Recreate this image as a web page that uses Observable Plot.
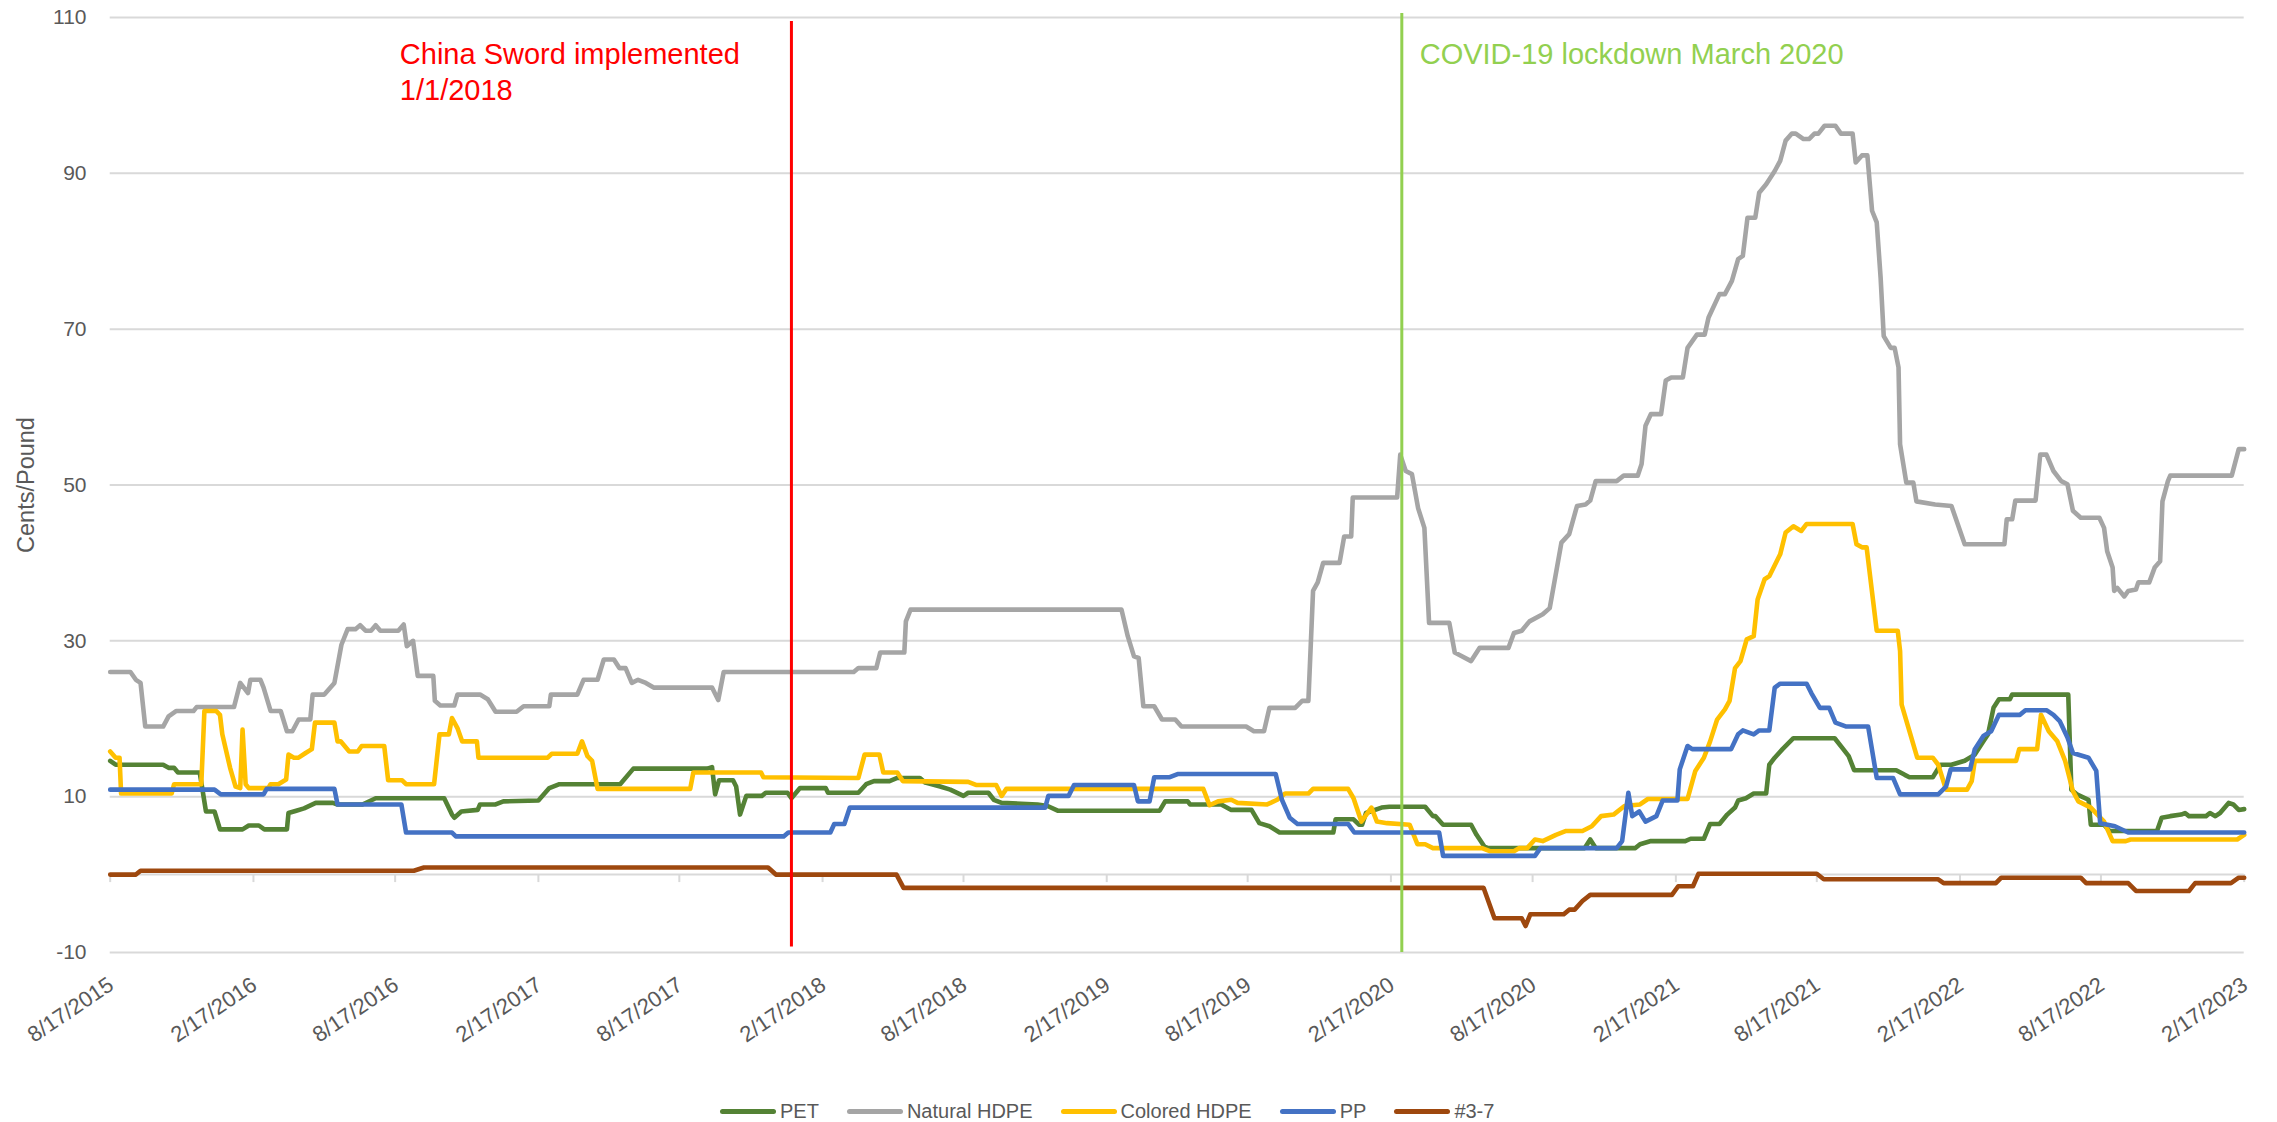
<!DOCTYPE html>
<html><head><meta charset="utf-8">
<script src="https://cdn.jsdelivr.net/npm/d3@7"></script>
<script src="https://cdn.jsdelivr.net/npm/@observablehq/plot@0.6"></script>
<style>
body{margin:0;background:#fff;font-family:"Liberation Sans",Arial,sans-serif;}
#wrap{position:relative;width:2277px;height:1122px;overflow:hidden;}
#legend{position:absolute;left:720px;top:1097px;height:28px;display:flex;align-items:center;gap:28px;font-size:20px;color:#595959;white-space:nowrap;}
.item{display:flex;align-items:center;}
.sw{width:56px;height:5px;border-radius:3px;margin-right:4px;}
</style></head><body><div id="wrap"></div>
<script>
// x values: days since the first observation (8/17/2015); y values: cents per pound
const startDate = "2015-08-17";
const tickLabels = ["8/17/2015","2/17/2016","8/17/2016","2/17/2017","8/17/2017","2/17/2018","8/17/2018","2/17/2019","8/17/2019","2/17/2020","8/17/2020","2/17/2021","8/17/2021","2/17/2022","8/17/2022","2/17/2023"];
const yTicks = [-10, 10, 30, 50, 70, 90, 110];
const seriesNames = ["PET", "Natural HDPE", "Colored HDPE", "PP", "#3-7"];
const seriesColors = ["#548235", "#A5A5A5", "#FFC000", "#4472C4", "#9E480E"];

const pet = [[0,14.6],[7,14.1],[68,14.1],[75,13.7],[82,13.7],[87,13.1],[115,13.1],[123,8.1],[134,8.1],[141,5.8],[170,5.8],[178,6.3],[191,6.3],[198,5.8],[227,5.8],[229,7.9],[239,8.2],[249,8.5],[264,9.2],[286,9.2],[292,9.0],[324,9.0],[341,9.8],[429,9.8],[439,7.7],[442,7.3],[451,8.1],[472,8.3],[475,9.0],[495,9.0],[505,9.4],[550,9.5],[564,11.1],[577,11.6],[655,11.6],[672,13.6],[767,13.6],[773,13.8],[777,10.3],[782,12.1],[800,12.1],[804,11.3],[809,7.7],[817,10.1],[837,10.1],[842,10.5],[870,10.5],[875,9.8],[886,11.1],[919,11.1],[922,10.5],[961,10.5],[971,11.6],[981,12.0],[1001,12.0],[1011,12.4],[1040,12.4],[1047,11.8],[1066,11.3],[1079,10.9],[1096,10.1],[1102,10.5],[1128,10.5],[1135,9.6],[1145,9.2],[1191,9.0],[1204,8.8],[1217,8.2],[1348,8.2],[1355,9.4],[1384,9.4],[1387,9.0],[1427,9.0],[1440,8.3],[1466,8.3],[1476,6.6],[1489,6.2],[1502,5.4],[1571,5.4],[1574,7.1],[1597,7.1],[1604,6.4],[1608,6.4],[1613,7.9],[1633,8.6],[1643,8.7],[1689,8.7],[1699,7.5],[1702,7.5],[1712,6.4],[1748,6.4],[1755,5.1],[1765,3.6],[1770,3.4],[1894,3.4],[1901,4.5],[1908,3.4],[1959,3.4],[1965,3.9],[1979,4.3],[2023,4.3],[2030,4.6],[2047,4.6],[2055,6.5],[2067,6.5],[2077,7.7],[2087,8.6],[2091,9.5],[2101,9.8],[2111,10.4],[2127,10.4],[2131,14.1],[2138,15.0],[2148,16.1],[2162,17.5],[2215,17.5],[2226,16.1],[2233,15.2],[2240,13.4],[2294,13.4],[2305,12.8],[2311,12.5],[2341,12.5],[2351,14.1],[2365,14.1],[2382,14.6],[2395,15.4],[2406,17.1],[2412,18.0],[2419,21.4],[2426,22.5],[2440,22.5],[2443,23.1],[2515,23.1],[2519,10.9],[2526,10.3],[2541,9.6],[2544,6.4],[2561,6.4],[2568,5.6],[2629,5.6],[2635,7.3],[2646,7.5],[2660,7.7],[2665,7.9],[2670,7.5],[2692,7.5],[2697,7.9],[2704,7.5],[2710,7.9],[2721,9.2],[2727,9.0],[2734,8.3],[2741,8.4]];

const naturalHDPE = [[0,26.0],[26,26.0],[33,25.0],[39,24.6],[45,19.0],[68,19.0],[75,20.3],[85,21.0],[107,21.0],[111,21.5],[159,21.5],[167,24.6],[177,23.3],[180,25.0],[193,25.0],[197,24.0],[206,21.0],[219,21.0],[227,18.4],[234,18.4],[242,19.9],[257,19.9],[260,23.1],[275,23.1],[288,24.6],[297,29.5],[305,31.5],[315,31.5],[321,32.0],[328,31.3],[335,31.3],[341,32.0],[347,31.3],[370,31.3],[377,32.1],[381,29.3],[389,30.0],[395,25.5],[415,25.5],[417,22.3],[424,21.7],[442,21.7],[446,23.1],[475,23.1],[485,22.5],[495,20.9],[522,20.9],[531,21.6],[564,21.6],[566,23.1],[600,23.1],[608,25.0],[626,25.0],[634,27.6],[647,27.6],[654,26.5],[662,26.5],[670,24.6],[678,25.0],[688,24.6],[698,24.0],[773,24.0],[781,22.4],[788,26.0],[955,26.0],[961,26.5],[984,26.5],[989,28.5],[1020,28.5],[1022,32.5],[1028,34.0],[1299,34.0],[1307,30.6],[1315,28.0],[1321,27.8],[1327,21.6],[1341,21.6],[1351,19.9],[1368,19.9],[1376,19.0],[1459,19.0],[1469,18.4],[1482,18.4],[1489,21.4],[1522,21.4],[1531,22.3],[1539,22.3],[1545,36.4],[1551,37.5],[1558,40.0],[1579,40.0],[1585,43.4],[1594,43.4],[1596,48.4],[1653,48.4],[1657,53.9],[1664,51.8],[1672,51.4],[1680,47.0],[1688,44.5],[1694,32.3],[1720,32.3],[1727,28.5],[1748,27.4],[1759,29.1],[1796,29.1],[1803,31.0],[1813,31.3],[1823,32.5],[1840,33.4],[1849,34.2],[1864,42.6],[1874,43.7],[1884,47.3],[1895,47.5],[1901,48.0],[1908,50.5],[1935,50.5],[1944,51.2],[1962,51.2],[1967,52.7],[1972,57.6],[1979,59.1],[1992,59.1],[1998,63.4],[2005,63.8],[2020,63.8],[2026,67.6],[2038,69.3],[2048,69.3],[2053,71.5],[2067,74.5],[2074,74.5],[2083,76.2],[2091,79.0],[2097,79.4],[2103,84.3],[2113,84.3],[2118,87.5],[2127,88.6],[2138,90.3],[2145,91.6],[2152,94.2],[2160,95.1],[2165,95.1],[2175,94.4],[2182,94.4],[2189,95.1],[2194,95.1],[2202,96.1],[2216,96.1],[2223,95.1],[2238,95.1],[2242,91.4],[2250,92.3],[2257,92.3],[2263,85.2],[2269,83.7],[2274,76.6],[2278,69.1],[2287,67.6],[2292,67.6],[2297,65.1],[2299,55.2],[2307,50.3],[2316,50.3],[2320,47.9],[2344,47.5],[2365,47.3],[2382,42.4],[2433,42.4],[2436,45.6],[2443,45.6],[2447,48.0],[2473,48.0],[2479,53.9],[2487,53.9],[2496,51.8],[2506,50.5],[2514,50.1],[2521,46.7],[2531,45.8],[2555,45.8],[2561,44.5],[2565,41.5],[2572,39.4],[2574,36.4],[2578,36.8],[2587,35.7],[2592,36.4],[2602,36.6],[2605,37.5],[2619,37.5],[2626,39.4],[2633,40.2],[2636,47.9],[2643,50.5],[2646,51.2],[2725,51.2],[2734,54.6],[2741,54.6]];

const coloredHDPE = [[0,15.8],[7,15.0],[12,15.0],[14,10.4],[79,10.4],[82,11.6],[117,11.6],[121,21.0],[136,21.0],[141,20.5],[144,18.0],[154,13.7],[161,11.3],[167,11.1],[170,18.6],[174,11.6],[178,11.1],[203,11.1],[206,11.6],[216,11.6],[226,12.2],[229,15.4],[236,15.0],[242,15.0],[251,15.6],[259,16.1],[263,19.5],[288,19.5],[292,17.1],[296,17.1],[307,15.8],[318,15.8],[323,16.5],[352,16.5],[357,12.1],[375,12.1],[380,11.6],[416,11.6],[423,18.0],[435,18.0],[439,20.1],[446,18.8],[452,17.1],[471,17.1],[473,15.0],[562,15.0],[567,15.5],[600,15.5],[606,17.1],[613,15.2],[619,14.6],[626,11.0],[745,11.0],[749,13.1],[836,13.1],[839,12.5],[961,12.4],[969,15.4],[988,15.4],[993,13.1],[1011,13.1],[1018,12.0],[1102,11.9],[1112,11.5],[1138,11.5],[1145,10.1],[1151,11.0],[1404,11.0],[1412,8.9],[1423,9.4],[1440,9.6],[1448,9.2],[1486,9.0],[1499,9.6],[1509,10.4],[1539,10.4],[1545,11.0],[1590,11.0],[1597,9.8],[1607,6.8],[1620,8.6],[1627,6.8],[1640,6.6],[1669,6.4],[1679,3.9],[1689,3.9],[1699,3.4],[1762,3.4],[1772,3.0],[1803,3.0],[1810,3.4],[1820,3.4],[1830,4.5],[1840,4.3],[1857,5.1],[1870,5.6],[1891,5.6],[1903,6.2],[1915,7.5],[1931,7.7],[1945,8.8],[1965,9.0],[1975,9.7],[2026,9.7],[2036,13.3],[2047,15.0],[2055,17.1],[2064,19.9],[2074,21.2],[2080,22.3],[2087,26.5],[2094,27.4],[2102,30.2],[2111,30.6],[2116,35.3],[2125,37.9],[2131,38.3],[2145,41.1],[2152,43.9],[2162,44.7],[2172,44.1],[2179,45.0],[2238,45.0],[2243,42.4],[2250,42.0],[2256,42.0],[2269,31.3],[2296,31.3],[2299,28.7],[2301,21.8],[2311,18.4],[2321,15.0],[2341,15.0],[2348,14.1],[2358,10.9],[2385,10.9],[2391,12.0],[2395,14.6],[2448,14.6],[2452,16.1],[2475,16.1],[2480,20.5],[2490,18.4],[2501,17.1],[2511,14.6],[2521,10.7],[2528,9.4],[2544,8.6],[2561,6.8],[2572,4.3],[2589,4.3],[2595,4.5],[2732,4.5],[2741,5.1]];

const pp = [[0,10.9],[134,10.9],[142,10.3],[197,10.3],[201,11.0],[288,11.0],[292,9.0],[374,9.0],[380,5.4],[439,5.4],[444,4.9],[865,4.9],[871,5.4],[925,5.4],[930,6.5],[943,6.5],[950,8.6],[1201,8.6],[1205,10.1],[1231,10.1],[1238,11.5],[1315,11.5],[1320,9.4],[1335,9.4],[1341,12.5],[1361,12.5],[1371,12.9],[1497,12.9],[1505,9.6],[1515,7.3],[1525,6.5],[1590,6.5],[1598,5.4],[1707,5.4],[1712,2.4],[1830,2.4],[1837,3.4],[1935,3.4],[1942,4.3],[1950,10.5],[1955,7.5],[1964,8.1],[1972,6.8],[1986,7.5],[1994,9.5],[2013,9.5],[2016,13.5],[2026,16.5],[2032,16.1],[2082,16.1],[2091,18.0],[2097,18.5],[2111,18.0],[2118,18.5],[2131,18.5],[2138,24.0],[2145,24.5],[2179,24.5],[2185,23.3],[2196,21.4],[2208,21.4],[2216,19.5],[2230,19.0],[2258,19.0],[2269,12.4],[2290,12.4],[2299,10.3],[2348,10.3],[2358,11.3],[2364,13.5],[2389,13.5],[2395,16.1],[2406,17.8],[2416,18.4],[2426,20.5],[2453,20.5],[2460,21.1],[2487,21.1],[2496,20.5],[2504,19.7],[2514,17.6],[2521,15.6],[2541,15.0],[2551,13.3],[2556,6.6],[2575,6.2],[2592,5.4],[2741,5.4]];

const mixed37 = [[0,0],[33,0],[39,0.5],[390,0.5],[403,0.9],[845,0.9],[855,0],[1010,0],[1019,-1.7],[1764,-1.7],[1778,-5.6],[1813,-5.6],[1818,-6.6],[1824,-5.1],[1867,-5.1],[1874,-4.5],[1881,-4.5],[1891,-3.4],[1901,-2.6],[2006,-2.6],[2014,-1.5],[2033,-1.5],[2040,0.1],[2192,0.1],[2201,-0.6],[2348,-0.6],[2355,-1.1],[2422,-1.1],[2429,-0.4],[2531,-0.4],[2538,-1.1],[2592,-1.1],[2602,-2.1],[2670,-2.1],[2678,-1.1],[2724,-1.1],[2734,-0.4],[2741,-0.4]];

const eventDays = [875, 1659];          // vertical marker lines
const eventLabels = ["China Sword implemented\n1/1/2018", "COVID-19 lockdown March 2020"];
const eventLabelDays = [372, 1682];      // where each label starts
const eventColors = ["#FF0000", "#92D050"];

// ---- build ----
const t0 = new Date(startDate + "T00:00:00Z").getTime();
const toDate = d => new Date(t0 + d * 864e5);
const parseLabel = s => { const [m, d, y] = s.split("/").map(Number); return new Date(Date.UTC(y, m - 1, d)); };
const ticks = tickLabels.map(s => ({label: s, date: parseLabel(s)}));
const allSeries = [pet, naturalHDPE, coloredHDPE, pp, mixed37];

const font = '"Liberation Sans", Arial, sans-serif';
const grid = "#D9D9D9", textCol = "#595959";

const chart = Plot.plot({
  width: 2277,
  height: 1080,
  marginLeft: 109.7,
  marginRight: 33.3,
  marginTop: 17,
  marginBottom: 128,
  style: {fontFamily: font, background: "#fff", overflow: "visible"},
  x: {type: "utc", domain: [toDate(0), parseLabel(tickLabels[tickLabels.length - 1])], axis: null},
  y: {domain: [-10, 110], axis: null},
  marks: [
    Plot.ruleY(yTicks, {stroke: grid, strokeWidth: 2}),
    Plot.ruleY([0], {stroke: grid, strokeWidth: 2}),
    Plot.ruleX(ticks, {x: "date", y1: 0, y2: 0, insetBottom: -8, stroke: grid, strokeWidth: 2}),
    Plot.axisY({ticks: yTicks, tickSize: 0, tickPadding: 23.7, fontSize: 21, fill: textCol, label: null, tickFormat: d => String(d)}),
    Plot.text(ticks, {x: "date", frameAnchor: "bottom", text: "label", rotate: -34, textAnchor: "end", lineAnchor: "middle", dy: 30, dx: 1, fontSize: 22, fill: textCol}),
    Plot.text(["Cents/Pound"], {frameAnchor: "left", rotate: -90, dx: -84, fontSize: 23.5, fill: textCol, textAnchor: "middle", lineAnchor: "middle"}),
    ...allSeries.map((s, i) => Plot.line(s, {
      x: d => toDate(d[0]), y: d => d[1],
      stroke: seriesColors[i], strokeWidth: 4.6, strokeLinejoin: "round", strokeLinecap: "round"
    })),
    Plot.ruleX([eventDays[0]], {x: d => toDate(d), y1: -9.3, y2: 109.5, stroke: eventColors[0], strokeWidth: 3}),
    Plot.ruleX([eventDays[1]], {x: d => toDate(d), y1: -10, y2: 110.5, stroke: eventColors[1], strokeWidth: 3}),
    Plot.text([0, 1], {x: i => toDate(eventLabelDays[i]), text: i => eventLabels[i], fill: i => eventColors[i],
      frameAnchor: "top", dy: 21.3, textAnchor: "start", lineAnchor: "top", fontSize: 29, lineHeight: 1.24})
  ]
});

const wrap = document.getElementById("wrap");
wrap.appendChild(chart);
const legend = document.createElement("div");
legend.id = "legend";
seriesNames.forEach((name, i) => {
  const it = document.createElement("div");
  it.className = "item";
  const sw = document.createElement("span");
  sw.className = "sw";
  sw.style.background = seriesColors[i];
  const lb = document.createElement("span");
  lb.textContent = name;
  it.appendChild(sw); it.appendChild(lb);
  legend.appendChild(it);
});
wrap.appendChild(legend);
</script>
</body></html>
